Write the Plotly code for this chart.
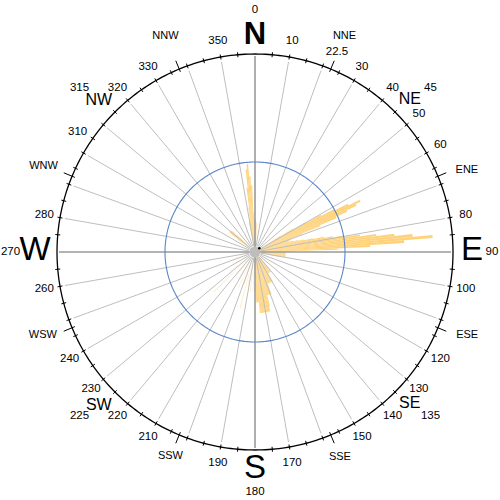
import numpy as np
import plotly.graph_objects as go

# ---------------- data (values in chart units; outer ring = 11, blue ring = 5) ----------------
main_dir = [349, 350, 351, 352, 353, 354, 355, 356, 357, 358, 359, 0, 1, 2, 3, 4,
            306, 307, 308, 309, 310, 311, 312, 313,
            58, 59, 60, 61, 62, 63, 64, 65, 66, 67, 68, 69, 70, 71, 72, 73, 74, 75,
            76, 77, 78, 79, 80, 81, 82, 83, 84, 85, 86, 87, 88, 89, 90,
            91, 92, 93, 94, 95, 96, 97, 98, 99, 100, 101,
            140, 141, 142, 143, 144, 145, 146, 147, 148, 149, 150, 151, 152, 153, 154, 155, 156, 157, 158,
            159, 160, 161, 162, 163, 164, 165, 166, 167, 168, 169, 170, 171, 172, 173, 174, 175,
            176, 177, 178, 179, 180]
main_val = [1.7, 1.8, 1.9, 2.5, 3.6, 4.6, 4.9, 4.2, 3.7, 2.2, 1.8, 1.8, 1.8, 1.7, 1.6, 1.1,
            1.2, 1.6, 1.8, 1.8, 1.8, 1.8, 1.7, 1.4,
            1.7, 2.5, 3.3, 4.2, 5.0, 5.8, 6.5, 6.2, 5.6, 4.9, 3.9, 2.8, 2.2, 2.1, 2.0, 1.9, 2.2, 2.5,
            2.8, 3.3, 3.9, 4.4, 5.0, 5.9, 6.8, 7.8, 8.8, 9.9, 8.3, 6.4, 4.6, 2.2, 1.7,
            1.7, 1.7, 1.7, 1.7, 1.7, 1.7, 1.7, 1.7, 1.7, 1.7, 1.4,
            1.4, 1.4, 1.4, 1.4, 1.4, 1.4, 1.4, 1.4, 1.4, 1.9, 1.9, 1.9, 1.9, 1.9, 1.9, 1.9, 1.9, 1.9, 1.9,
            2.5, 2.5, 2.5, 2.5, 2.5, 2.5, 3.1, 3.4, 3.4, 3.4, 3.4, 3.4, 3.4, 3.4, 3.4, 3.4, 3.4,
            2.8, 2.8, 2.8, 2.2, 1.4]

pale_dir = [183, 187, 192, 195, 199, 205, 212, 218, 226, 232, 240, 253]
pale_val = [2.2, 2.2, 1.9, 3.2, 1.9, 2.2, 1.7, 1.8, 3.2, 1.7, 1.4, 1.6]

ring_value = 11.0
blue_value = 5.0

num_labels = ["10", "30", "40", "50", "60", "80", "100", "120", "130", "140", "150", "170",
              "190", "210", "220", "230", "240", "260", "280", "310", "320", "330", "350"]
num_angles = [10, 30, 40, 50, 60, 80, 100, 120, 130, 140, 150, 170,
              190, 210, 220, 230, 240, 260, 280, 304, 320, 330, 350]

card_labels = ["<b>N</b>", "E", "S", "W"]
card_deg_labels = ["0", "90", "180", "270"]
card_angles = [0, 90, 180, 270]

inter_labels = ["NE", "SE", "SW", "NW"]
inter_angles = [45.5, 134.5, 225.5, 314]
inter_deg_labels = ["45", "135", "225", "315"]
inter_deg_angles = [47, 133, 227, 313]

sec_labels = ["NNE", "ENE", "ESE", "SSE", "SSW", "WSW", "WNW", "NNW"]
sec_angles = [22.5, 69, 111.5, 157.5, 202.5, 248.5, 292, 337.5]
nne_value_label = "22.5"

# ---------------- geometry helpers ----------------
W = 500
CX, CY = 255.0, 252.0     # centre of the rose (px from top-left)
RP = 245.0                # pixel radius of the polar area
PX = 18.0                 # pixels per chart unit
R_MAX = RP / PX
FONT = "Liberation Sans, Arial, sans-serif"

dom_x = [(CX - RP) / W, (CX + RP) / W]
dom_y = [(W - CY - RP) / W, (W - CY + RP) / W]

fig = go.Figure()

fig.add_trace(go.Barpolar(theta=main_dir, r=main_val, width=[1.0] * len(main_dir),
                          marker=dict(color="rgba(255,204,102,0.88)", line=dict(width=0))))
fig.add_trace(go.Barpolar(theta=pale_dir, r=pale_val, width=[0.7] * len(pale_dir),
                          marker=dict(color="rgba(255,214,130,0.7)", line=dict(width=0))))

# radial grid lines every 10 deg
gt, gr = [], []
for a in range(0, 360, 10):
    if a % 90 == 0:
        continue
    gt += [a, a, None]
    gr += [6 / PX, 193 / PX, None]
fig.add_trace(go.Scatterpolar(theta=gt, r=gr, mode="lines",
                              line=dict(color="#BEBEBE", width=1), hoverinfo="skip"))
ct, cr = [], []
for a in card_angles:
    ct += [a, a, None]
    cr += [0, 196 / PX, None]
fig.add_trace(go.Scatterpolar(theta=ct, r=cr, mode="lines",
                              line=dict(color="#9A9A9A", width=1.6), hoverinfo="skip"))

# blue ring
circ = np.arange(0, 361, 1)
fig.add_trace(go.Scatterpolar(theta=circ, r=[blue_value] * len(circ), mode="lines",
                              line=dict(color="#5A86C8", width=1.1), hoverinfo="skip"))
# outer black ring
fig.add_trace(go.Scatterpolar(theta=circ, r=[ring_value] * len(circ), mode="lines",
                              line=dict(color="black", width=1.3), hoverinfo="skip"))

# ticks
tt, tr = [], []
for a in np.arange(0, 360, 5):
    if a % 90 == 0:
        continue
    tt += [a, a, None]
    tr += [ring_value - 2.5 / PX, ring_value + 2.5 / PX, None]
for a in np.arange(22.5, 360, 45):
    tt += [a, a, None]
    tr += [ring_value - 3 / PX, ring_value + 9 / PX, None]
fig.add_trace(go.Scatterpolar(theta=tt, r=tr, mode="lines",
                              line=dict(color="black", width=1), hoverinfo="skip"))

# centre dot
fig.add_trace(go.Scatterpolar(theta=[0], r=[0], mode="markers",
                              marker=dict(color="#BDBDBD", size=11), hoverinfo="skip"))
fig.add_trace(go.Scatterpolar(theta=[49], r=[5.7 / PX], mode="markers",
                              marker=dict(color="black", size=2.5), hoverinfo="skip"))


def text_trace(labels, angles, radii_px, size):
    return go.Scatterpolar(theta=angles, r=[v / PX for v in radii_px], mode="text",
                           text=labels, textposition="middle center",
                           textfont=dict(family=FONT, size=size, color="black"),
                           cliponaxis=False, hoverinfo="skip")


fig.add_trace(text_trace(num_labels, num_angles, [214] * len(num_labels), 11.5))
fig.add_trace(text_trace(card_labels, card_angles, [216, 217, 218, 220], [31, 33, 33, 33]))
fig.add_trace(text_trace(card_deg_labels, card_angles, [242, 237, 240, 244.5], 11.5))
fig.add_trace(text_trace(inter_labels, inter_angles, [217, 217, 219, 217], 16))
fig.add_trace(text_trace(inter_deg_labels, inter_deg_angles, [240] * 4, 11.5))
fig.add_trace(text_trace(sec_labels, sec_angles, [234, 227, 228, 222, 221, 228, 228, 234], 11))
fig.add_trace(text_trace([nne_value_label], [22.3], [216], 11.5))

fig.update_layout(
    width=W, height=W,
    margin=dict(l=0, r=0, t=0, b=0),
    paper_bgcolor="white",
    showlegend=False,
    hovermode=False,
    polar=dict(
        domain=dict(x=dom_x, y=dom_y),
        bgcolor="white",
        bargap=0,
        radialaxis=dict(visible=False, range=[0, R_MAX]),
        angularaxis=dict(rotation=90, direction="clockwise", showline=False,
                         showgrid=False, showticklabels=False, ticks=""),
    ),
)

# remove the browser's default 8px body margin so the 500x500 figure fills the window
fig.write_html("out.html", config={"displayModeBar": False},
               post_script="document.body.style.margin='0px';")
